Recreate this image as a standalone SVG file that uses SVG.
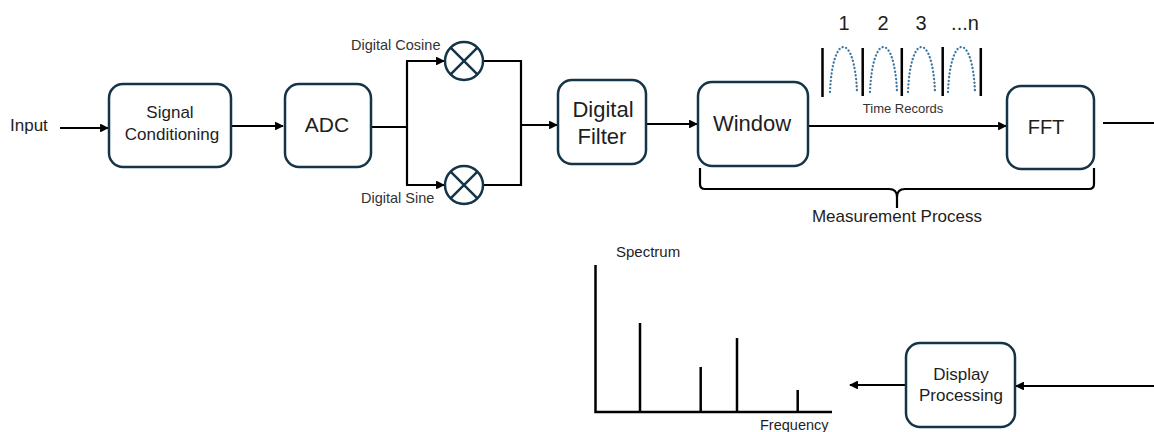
<svg xmlns="http://www.w3.org/2000/svg" width="1154" height="432" viewBox="0 0 1154 432">
  <defs>
    <marker id="arrow" viewBox="0 0 10 10" refX="9" refY="5" markerWidth="4" markerHeight="4" orient="auto" markerUnits="strokeWidth">
      <path d="M0,0 L10,5 L0,10 z" fill="#000"/>
    </marker>
    <style>
      .box { fill: #fff; stroke: #143447; stroke-width: 2.5; }
      .mix { fill: #fff; stroke: #143447; stroke-width: 2.5; }
      .wire { fill: none; stroke: #000; stroke-width: 2.2; }
      .arrow { fill: none; stroke: #000; stroke-width: 2.2; marker-end: url(#arrow); }
      .bar { fill: none; stroke: #000; stroke-width: 2.5; }
      .dots { fill: none; stroke: #3b77a0; stroke-width: 2.3; stroke-dasharray: 0.1 3.6; stroke-linecap: round; }
      text { font-family: "Liberation Sans", Arial, sans-serif; fill: #1e1e1e; }
      .lbl { font-size: 17px; text-anchor: middle; }
      .big { font-size: 22px; text-anchor: middle; }
      .small { font-size: 14.5px; fill: #333; }
      .tiny { font-size: 13px; fill: #333; text-anchor: middle; }
    </style>
  </defs>

  <!-- signal flow connectors -->
  <g id="connectors">
    <path class="arrow" d="M60,128 H108"/>
    <path class="arrow" d="M231,126 H283"/>
    <path class="wire" d="M371,127 H407"/>
    <path class="wire" d="M407,61 V185"/>
    <path class="arrow" d="M406,61 H444"/>
    <path class="arrow" d="M406,185 H444"/>
    <path class="wire" d="M483,61 H521 V185 H483"/>
    <path class="arrow" d="M521,125 H557"/>
    <path class="arrow" d="M646,124 H697"/>
    <path class="arrow" d="M808,126 H1006"/>
    <path class="wire" d="M1103,123 H1154"/>
    <path class="arrow" d="M1154,386 H1016"/>
    <path class="arrow" d="M906,385 H850"/>
  </g>

  <text x="10" y="131" style="font-size:17px">Input</text>

  <g id="signal-conditioning">
    <rect class="box" x="109" y="84" width="122" height="83" rx="14"/>
    <text class="lbl" x="170" y="118">Signal</text>
    <text class="lbl" x="172" y="140">Conditioning</text>
  </g>

  <g id="adc">
    <rect class="box" x="285" y="84" width="86" height="83" rx="14"/>
    <text class="lbl" x="327" y="132" style="font-size:21px">ADC</text>
  </g>

  <g id="mixer-cosine">
    <circle class="mix" cx="464" cy="61" r="19"/>
    <path class="mix" d="M450.6,47.6 L477.4,74.4 M477.4,47.6 L450.6,74.4"/>
    <text class="small" x="351" y="50">Digital Cosine</text>
  </g>

  <g id="mixer-sine">
    <circle class="mix" cx="464" cy="185" r="19"/>
    <path class="mix" d="M450.6,171.6 L477.4,198.4 M477.4,171.6 L450.6,198.4"/>
    <text class="small" x="361" y="203">Digital Sine</text>
  </g>

  <g id="digital-filter">
    <rect class="box" x="558" y="80" width="88" height="84" rx="14"/>
    <text class="big" x="603" y="117">Digital</text>
    <text class="big" x="602" y="144">Filter</text>
  </g>

  <g id="window">
    <rect class="box" x="698" y="82" width="110" height="84" rx="14"/>
    <text class="big" x="752" y="131">Window</text>
  </g>

  <g id="time-records">
    <text x="844" y="30" style="font-size:20px" text-anchor="middle">1</text>
    <text x="883" y="30" style="font-size:20px" text-anchor="middle">2</text>
    <text x="921" y="30" style="font-size:20px" text-anchor="middle">3</text>
    <text x="965" y="30" style="font-size:20px" text-anchor="middle">...n</text>
    <path class="bar" d="M822.5,48 V97 M862.7,48 V96 M901.8,48 V96 M942.7,47 V96 M980.8,48 V96"/>
    <path class="dots" d="M830,92 C832.5,32 854.5,32 857,92"/>
    <path class="dots" d="M870,92 C872.5,32 894.5,32 897,92"/>
    <path class="dots" d="M908,92 C910.5,32 932.5,32 935,92"/>
    <path class="dots" d="M948,92 C950.5,32 972.5,32 975,92"/>
    <text class="tiny" x="903" y="113">Time Records</text>
  </g>

  <g id="fft">
    <rect class="box" x="1007" y="86" width="87" height="83" rx="14"/>
    <text class="big" x="1046" y="134" style="font-size:20px">FFT</text>
  </g>

  <g id="measurement-process">
    <path class="wire" stroke-width="2.5" d="M700,168 V184 Q700,189 705,189 H889 Q897,189 897,197 V208 M897,208 V197 Q897,189 905,189 H1089 Q1094,189 1094,184 V168"/>
    <text x="897" y="222" style="font-size:17px" text-anchor="middle" fill="#333">Measurement Process</text>
  </g>

  <g id="display-processing">
    <rect class="box" x="906" y="343" width="109" height="84" rx="14"/>
    <text class="lbl" x="961" y="380">Display</text>
    <text class="lbl" x="961" y="401">Processing</text>
  </g>

  <g id="spectrum">
    <text x="616" y="257" style="font-size:15px" fill="#333">Spectrum</text>
    <path class="bar" d="M595.5,265 V412 H832"/>
    <path class="bar" d="M640,323 V412 M700.7,367 V412 M737,338 V412 M797.7,390 V412"/>
    <text x="760" y="430" style="font-size:14.5px" fill="#333">Frequency</text>
  </g>
</svg>
